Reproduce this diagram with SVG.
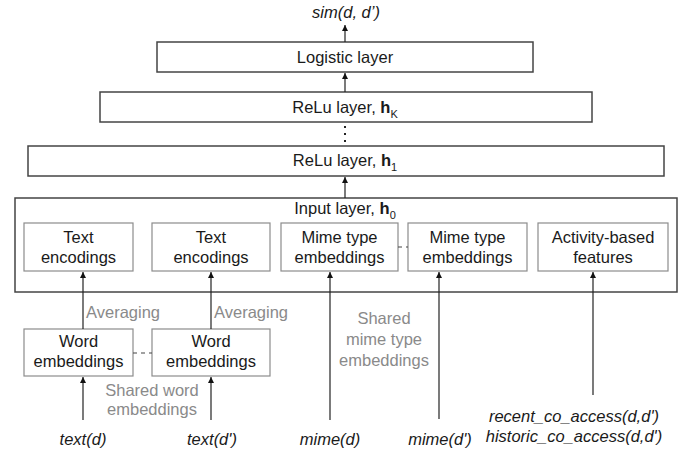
<svg xmlns="http://www.w3.org/2000/svg" width="693" height="453" viewBox="0 0 693 453">
  <defs>
    <marker id="arrow" markerWidth="6" markerHeight="7" refX="6" refY="3" orient="auto" markerUnits="userSpaceOnUse">
      <path d="M0,0 L6,3 L0,6 z" fill="#111"/>
    </marker>
  </defs>
  <style>
    text { font-family: "Liberation Sans", Arial, sans-serif; font-size: 16.5px; fill: #1a1a1a; }
    .c { text-anchor: middle; }
    .it { font-style: italic; }
    .gray { fill: #8a8a8a; }
    .layer { fill: #fff; stroke: #444; stroke-width: 1.5; }
    .inner { fill: #fff; stroke: #8c8c8c; stroke-width: 1.2; }
    .edge { stroke: #222; stroke-width: 1.2; fill: none; }
    .dash { stroke: #444; stroke-width: 1.2; stroke-dasharray: 4 4; fill: none; }
    .sub { font-size: 11px; }
  </style>

  <rect width="693" height="453" fill="#fff"/>

  <!-- output -->
  <g id="output">
    <text class="c it" x="346" y="18">sim(d, d’)</text>
  </g>

  <!-- stacked layers -->
  <g id="logistic">
    <rect class="layer" x="157" y="42" width="376" height="30"/>
    <text class="c" x="345" y="63">Logistic layer</text>
  </g>
  <g id="relu-k">
    <rect class="layer" x="100" y="92" width="492" height="30"/>
    <text class="c" x="345" y="113">ReLu layer, <tspan font-weight="bold">h</tspan><tspan class="sub" dy="5">K</tspan></text>
  </g>
  <g id="relu-1">
    <rect class="layer" x="28" y="146" width="636" height="30"/>
    <text class="c" x="345" y="166">ReLu layer, <tspan font-weight="bold">h</tspan><tspan class="sub" dy="5">1</tspan></text>
  </g>

  <!-- input layer container -->
  <g id="input-layer">
    <rect class="layer" x="15" y="198" width="662" height="94"/>
    <text class="c" x="345" y="214">Input layer, <tspan font-weight="bold">h</tspan><tspan class="sub" dy="5">0</tspan></text>
  </g>

  <g id="text-enc-1">
    <rect class="inner" x="24" y="223" width="109" height="48"/>
    <text class="c" x="78.5" y="243">Text</text>
    <text class="c" x="78.5" y="263">encodings</text>
  </g>
  <g id="text-enc-2">
    <rect class="inner" x="152" y="223" width="118" height="48"/>
    <text class="c" x="211" y="243">Text</text>
    <text class="c" x="211" y="263">encodings</text>
  </g>
  <g id="mime-emb-1">
    <rect class="inner" x="281" y="223" width="117" height="48"/>
    <text class="c" x="339.5" y="243">Mime type</text>
    <text class="c" x="339.5" y="263">embeddings</text>
  </g>
  <g id="mime-emb-2">
    <rect class="inner" x="408" y="223" width="119" height="48"/>
    <text class="c" x="467.5" y="243">Mime type</text>
    <text class="c" x="467.5" y="263">embeddings</text>
  </g>
  <g id="activity">
    <rect class="inner" x="538" y="223" width="130" height="48"/>
    <text class="c" x="603" y="243">Activity-based</text>
    <text class="c" x="603" y="263">features</text>
  </g>

  <g id="word-emb-1">
    <rect class="inner" x="24" y="329" width="109" height="47"/>
    <text class="c" x="78.5" y="347">Word</text>
    <text class="c" x="78.5" y="367">embeddings</text>
  </g>
  <g id="word-emb-2">
    <rect class="inner" x="152" y="329" width="118" height="47"/>
    <text class="c" x="211" y="347">Word</text>
    <text class="c" x="211" y="367">embeddings</text>
  </g>

  <!-- connectors -->
  <g id="connectors">
    <line class="edge" x1="345" y1="42" x2="345" y2="25" marker-end="url(#arrow)"/>
    <line class="edge" x1="345" y1="92" x2="345" y2="73" marker-end="url(#arrow)"/>
    <line class="edge" x1="345" y1="198" x2="345" y2="177" marker-end="url(#arrow)"/>
    <line x1="345" y1="126" x2="345" y2="143" stroke="#222" stroke-width="2" stroke-dasharray="2 5"/>

    <line class="edge" x1="83" y1="329" x2="83" y2="272" marker-end="url(#arrow)"/>
    <line class="edge" x1="211" y1="329" x2="211" y2="272" marker-end="url(#arrow)"/>
    <line class="edge" x1="83" y1="420" x2="83" y2="377" marker-end="url(#arrow)"/>
    <line class="edge" x1="211" y1="420" x2="211" y2="377" marker-end="url(#arrow)"/>
    <line class="edge" x1="330" y1="420" x2="330" y2="272" marker-end="url(#arrow)"/>
    <line class="edge" x1="439" y1="419" x2="439" y2="272" marker-end="url(#arrow)"/>
    <line class="edge" x1="593" y1="395" x2="593" y2="272" marker-end="url(#arrow)"/>

    <line class="dash" x1="133" y1="353" x2="152" y2="353"/>
    <line class="dash" x1="398" y1="247" x2="408" y2="247"/>
  </g>

  <!-- edge annotations -->
  <g id="annotations">
    <text class="gray" x="86" y="318">Averaging</text>
    <text class="gray" x="214" y="318">Averaging</text>
    <text class="c gray" x="152" y="396">Shared word</text>
    <text class="c gray" x="152" y="415">embeddings</text>
    <text class="c gray" x="384" y="324">Shared</text>
    <text class="c gray" x="384" y="345">mime type</text>
    <text class="c gray" x="384" y="366">embeddings</text>
  </g>

  <!-- inputs -->
  <g id="inputs">
    <text class="c it" x="83" y="445">text(d)</text>
    <text class="c it" x="212" y="445">text(d')</text>
    <text class="c it" x="330" y="445">mime(d)</text>
    <text class="c it" x="440" y="445">mime(d')</text>
    <text class="c it" x="574" y="422">recent_co_access(d,d')</text>
    <text class="c it" x="574" y="442">historic_co_access(d,d')</text>
  </g>
</svg>
